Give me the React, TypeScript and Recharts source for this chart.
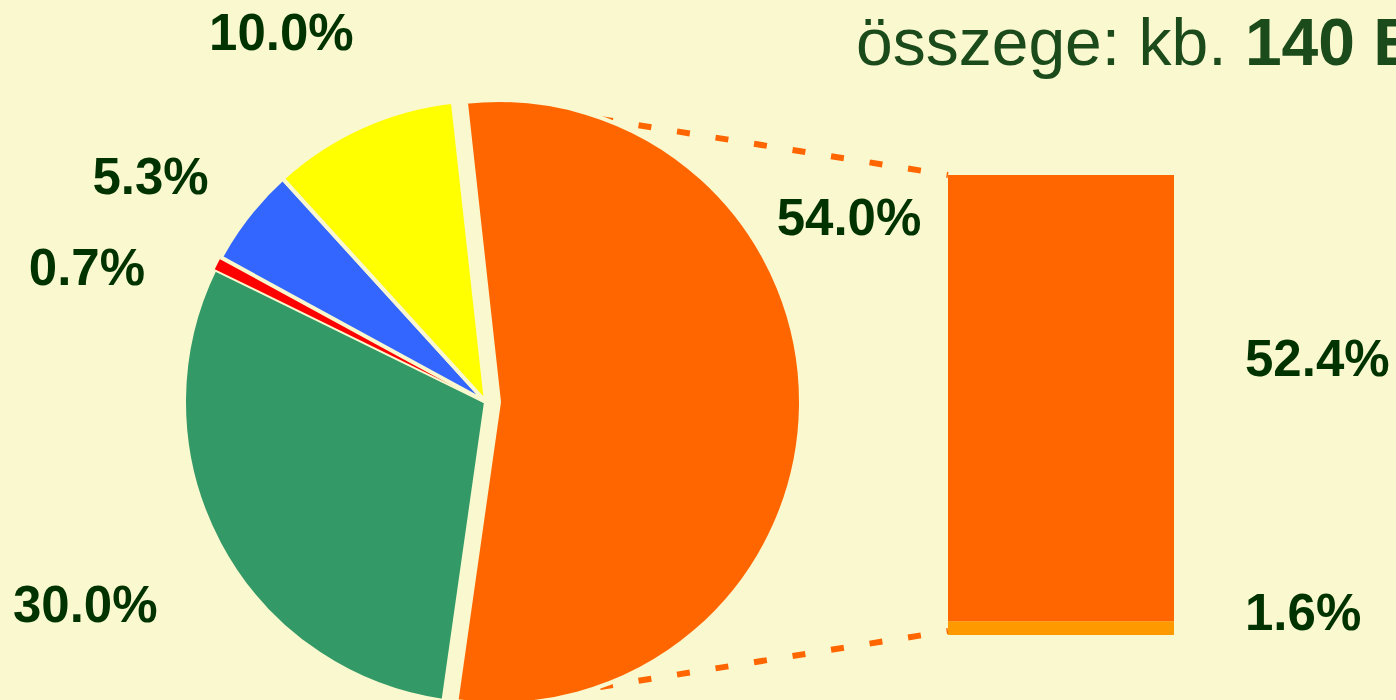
import { PieChart, Pie, Cell, BarChart, Bar, XAxis, YAxis, LabelList } from "recharts";

const BG = "#FAF8CE";
const LABEL_COLOR = "#003300";
const FONT = "'Liberation Sans', Arial, sans-serif";

// pie slices, clockwise from the top
const sliceNames = ["a", "b", "c", "d", "e"];
const sliceValues = [54.0, 30.0, 0.7, 5.3, 10.0];
const sliceColors = ["#FF6600", "#339966", "#FF0000", "#3366FF", "#FFFF00"];

// split of the exploded slice, bottom to top
const barNames = ["low", "high"];
const barValues = [1.6, 52.4];
const barColors = ["#FF9900", "#FF6600"];

// label placement around the pie (distance from centre, angle shift from slice middle)
const labelRadius = [407, 449, 421, 404, 422];
const labelShift = [27.8, -1.1, 8.8, 4.3, 4.7];

const W = 1396;
const H = 700;
const CX = 486;
const CY = 402;
const R = 302;
const EXPLODE = 13;
const START = 96.3;

const pieData = sliceNames.map((name, i) => ({ name, value: sliceValues[i] }));
const barRow: Record<string, string | number> = { name: "split" };
barNames.forEach((n, i) => (barRow[n] = barValues[i]));
const barTotal = barValues.reduce((s, v) => s + v, 0);

const BAR_LEFT = 948;
const BAR_TOP = 175;
const BAR_W = 226;
const BAR_H = 460;

const RAD = Math.PI / 180;

const renderPieLabel = (props: any) => {
  const { cx, cy, midAngle, index, value } = props;
  const a = (midAngle + labelShift[index]) * RAD;
  const r = labelRadius[index];
  const x = cx + r * Math.cos(a);
  const y = cy - r * Math.sin(a);
  return (
    <text
      x={x}
      y={y}
      textAnchor="middle"
      dominantBaseline="central"
      fill={LABEL_COLOR}
      fontFamily={FONT}
      fontWeight="bold"
      fontSize={51}
    >
      {`${Number(value).toFixed(1)}%`}
    </text>
  );
};

const barLabel = (shiftY: number) => (props: any) => {
  const { x, y, width, height, value } = props;
  return (
    <text
      x={x + width + 71}
      y={y + height / 2 + shiftY}
      dominantBaseline="central"
      fill={LABEL_COLOR}
      fontFamily={FONT}
      fontWeight="bold"
      fontSize={51}
    >
      {`${Number(value).toFixed(1)}%`}
    </text>
  );
};
const barLabelShift = [-16, -40];

export default function App() {
  // series lines from the exploded slice to the bar
  const topStart = { x: 600, y: 119 };
  const botStart = { x: 600, y: 687 };
  const barBottom = BAR_TOP + BAR_H - 1;

  return (
    <div
      style={{
        position: "absolute",
        left: 0,
        top: 0,
        width: W,
        height: H,
        background: BG,
        overflow: "hidden",
      }}
    >
      <svg width={W} height={H} style={{ position: "absolute", left: 0, top: 0 }}>
        <line
          x1={topStart.x}
          y1={topStart.y}
          x2={BAR_LEFT}
          y2={BAR_TOP}
          stroke="#FF6600"
          strokeWidth={6}
          strokeDasharray="13 26"
        />
        <line
          x1={botStart.x}
          y1={botStart.y}
          x2={BAR_LEFT}
          y2={barBottom - 3}
          stroke="#FF6600"
          strokeWidth={6}
          strokeDasharray="13 26"
        />
      </svg>

      <div style={{ position: "absolute", left: 0, top: 0 }}>
        <PieChart width={W} height={H} margin={{ top: 0, right: 0, bottom: 0, left: 0 }}>
          <Pie
            data={pieData}
            dataKey="value"
            nameKey="name"
            cx={CX}
            cy={CY}
            outerRadius={R}
            startAngle={START}
            endAngle={START - 360}
            stroke={BG}
            strokeWidth={4}
            label={renderPieLabel}
            labelLine={false}
            isAnimationActive={false}
          >
            {pieData.map((d, i) => (
              <Cell
                key={d.name}
                fill={i === 0 ? "none" : sliceColors[i]}
                stroke={i === 0 || i === 2 ? "none" : BG}
              />
            ))}
          </Pie>
          <Pie
            data={pieData}
            dataKey="value"
            nameKey="name"
            cx={CX + EXPLODE}
            cy={CY}
            outerRadius={R}
            startAngle={START}
            endAngle={START - 360}
            strokeWidth={4}
            labelLine={false}
            isAnimationActive={false}
          >
            {pieData.map((d, i) => (
              <Cell
                key={d.name}
                fill={i === 0 ? sliceColors[0] : "none"}
                stroke={i === 0 ? BG : "none"}
              />
            ))}
          </Pie>
        </PieChart>
      </div>

      <div style={{ position: "absolute", left: BAR_LEFT, top: BAR_TOP }}>
        <BarChart
          width={W - BAR_LEFT}
          height={BAR_H}
          data={[barRow]}
          margin={{ top: 0, right: W - BAR_LEFT - BAR_W, bottom: 0, left: 0 }}
          barCategoryGap={0}
          style={{ overflow: "visible" }}
        >
          <XAxis dataKey="name" hide />
          <YAxis hide domain={[0, barTotal]} />
          {barNames.map((n, i) => (
            <Bar key={n} dataKey={n} stackId="s" fill={barColors[i]} isAnimationActive={false}>
              <LabelList dataKey={n} content={barLabel(barLabelShift[i])} />
            </Bar>
          ))}
        </BarChart>
      </div>

      <svg width={W} height={H} style={{ position: "absolute", left: 0, top: 0, pointerEvents: "none" }}>
        <text x={856} y={65} fill="#1B4A1B" fontFamily={FONT} fontSize={66}>
          összege: kb. <tspan fontWeight="bold">140 E</tspan>
        </text>
      </svg>
    </div>
  );
}
